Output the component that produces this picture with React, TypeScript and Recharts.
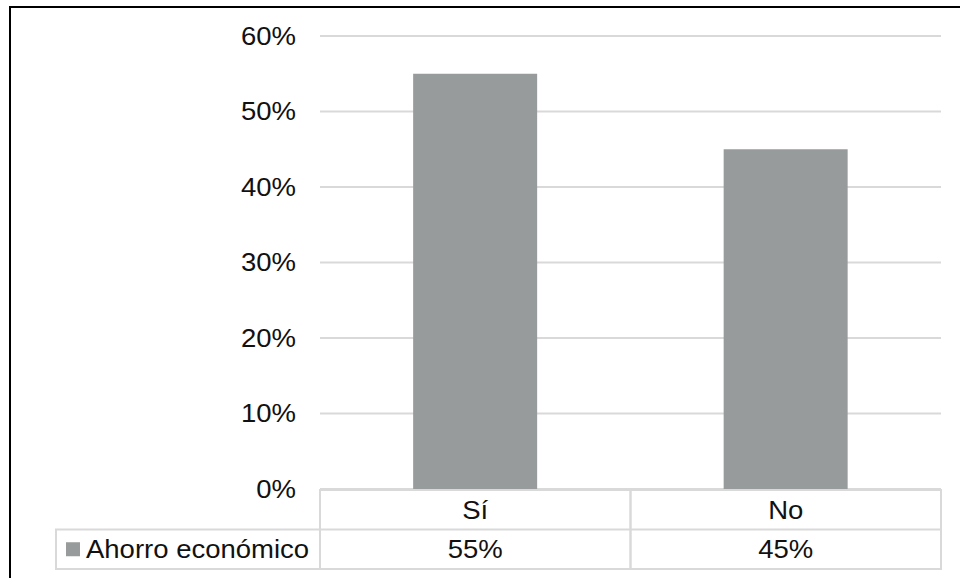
import React from "react";
import { BarChart, Bar, XAxis, YAxis, CartesianGrid } from "recharts";

// Survey result: share of respondents reporting economic savings
const categorias = ["Sí", "No"];
const ahorroEconomico = [0.55, 0.45];
const serieNombre = "Ahorro económico";
const yTicks = [0, 0.1, 0.2, 0.3, 0.4, 0.5, 0.6];

const rows = categorias.map((c, i) => ({ categoria: c, valor: ahorroEconomico[i] }));

const W = 960;
const H = 578;
const MARGIN = { top: 36, right: 19, bottom: 10, left: 0 };
const Y_AXIS_W = 320;
const X_AXIS_H = 79;
const PLOT_W = W - MARGIN.left - MARGIN.right - Y_AXIS_W;
const BAND = PLOT_W / categorias.length;
const ROW_H = X_AXIS_H / 2;
const LEGEND_LEFT = 56;

const FONT = "'Liberation Sans', Arial, Helvetica, sans-serif";
const FONT_SIZE = 25;
const STRETCH = 1.1;
const GRID = "#d9d9d9";
const BAR = "#989b9b";
const TEXT = "#111";

const pct = (v: number) => `${Math.round(v * 100)}%`;

function Label({ x, y, anchor, children }: { x: number; y: number; anchor: "start" | "middle" | "end"; children: React.ReactNode }) {
  return (
    <g transform={`translate(${x},${y}) scale(${STRETCH},1)`}>
      <text x={0} y={0} textAnchor={anchor} fontFamily={FONT} fontSize={FONT_SIZE} fill={TEXT}>
        {children}
      </text>
    </g>
  );
}

function YTick(props: any) {
  const { x, y, payload } = props;
  return <Label x={x} y={y + FONT_SIZE * 0.35} anchor="end">{pct(payload.value)}</Label>;
}

// Data table under the plot: category row, value row and the series key cell
function TableTick(props: any) {
  const { x, y, index } = props;
  const left = x - BAND / 2;
  const top = y;
  const mid = top + ROW_H;
  const bottom = top + X_AXIS_H;
  const textDy = FONT_SIZE * 0.35;
  return (
    <g>
      <rect x={left} y={top} width={BAND} height={X_AXIS_H} fill="none" stroke={GRID} strokeWidth={2} />
      <line x1={left} x2={left + BAND} y1={mid} y2={mid} stroke={GRID} strokeWidth={2} />
      <Label x={x} y={top + ROW_H / 2 + textDy} anchor="middle">{categorias[index]}</Label>
      <Label x={x} y={mid + ROW_H / 2 + textDy} anchor="middle">{pct(ahorroEconomico[index])}</Label>
      {index === 0 && (
        <g>
          <rect x={LEGEND_LEFT} y={mid} width={left - LEGEND_LEFT} height={ROW_H} fill="none" stroke={GRID} strokeWidth={2} />
          <rect x={LEGEND_LEFT + 10} y={mid + ROW_H / 2 - 7} width={14} height={14} fill={BAR} />
          <Label x={LEGEND_LEFT + 30} y={mid + ROW_H / 2 + textDy} anchor="start">{serieNombre}</Label>
        </g>
      )}
    </g>
  );
}

export default function App() {
  return (
    <div style={{ position: "absolute", left: 0, top: 0, width: W, height: H, background: "#fff", overflow: "hidden" }}>
      <div
        style={{
          position: "absolute",
          left: 9,
          top: 6,
          width: W - 9,
          height: H - 6,
          boxSizing: "border-box",
          borderLeft: "2px solid #000",
          borderTop: "2px solid #000",
        }}
      />
      <div style={{ position: "absolute", left: 0, top: 0 }}>
        <BarChart width={W} height={H} data={rows} margin={MARGIN} barCategoryGap="30%">
          <CartesianGrid horizontal vertical={false} stroke={GRID} strokeWidth={2} />
          <YAxis
            type="number"
            domain={[0, 0.6]}
            ticks={yTicks}
            width={Y_AXIS_W}
            axisLine={false}
            tickLine={false}
            tickSize={0}
            tickMargin={24}
            tick={(p: any) => <YTick {...p} />}
            interval={0}
          />
          <XAxis
            dataKey="categoria"
            height={X_AXIS_H}
            axisLine={false}
            tickLine={false}
            tickSize={0}
            tickMargin={1}
            interval={0}
            tick={(p: any) => <TableTick {...p} />}
          />
          <Bar dataKey="valor" fill={BAR} isAnimationActive={false} />
        </BarChart>
      </div>
    </div>
  );
}
